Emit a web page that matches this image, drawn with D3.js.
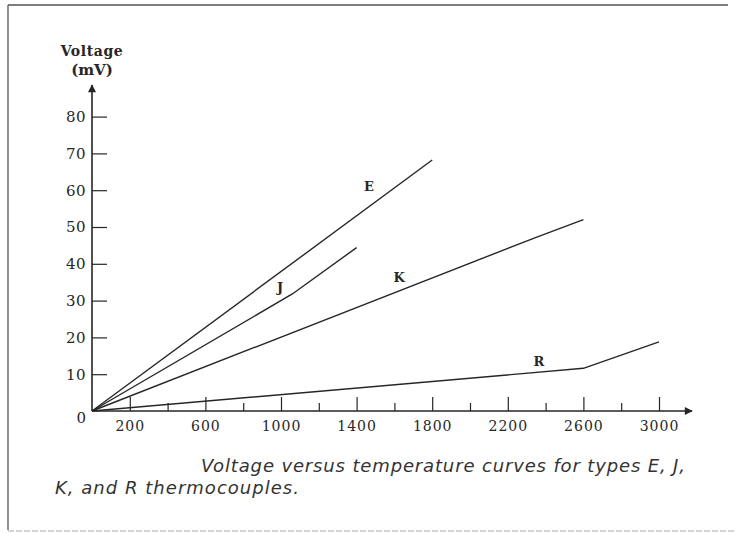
<!DOCTYPE html>
<html>
<head>
<meta charset="utf-8">
<script src="https://cdn.jsdelivr.net/npm/d3@7"></script>
<style>
  body { margin: 0; background: #fff; }
  svg { display: block; }
</style>
</head>
<body>
<svg id="chart" width="735" height="533"></svg>
<script>
    // Data (temperature, mV)
    const typeE = [[0, 0], [1800, 68.2]];
    const typeJ = [[0, 0], [1060, 31.8], [1400, 44.4]];
    const typeK = [[0, 0], [2350, 47.2], [2600, 52]];
    const typeR = [[0, 0], [2600, 11.6], [3000, 18.8]];

    const curveNames = ["E", "J", "K", "R"];
    // where each curve's letter sits (temperature, mV)
    const labelPos = [[1465, 60.9], [995, 33.7], [1625, 36.2], [2365, 13.6]];

    const xMajor = [200, 600, 1000, 1400, 1800, 2200, 2600, 3000];
    const xMinor = [400, 800, 1200, 1600, 2000, 2400, 2800];
    const yTicks = [10, 20, 30, 40, 50, 60, 70, 80];

    const svg = d3.select("#chart");
    const ink = "#262626";

    // frame of the scanned page
    svg.append("line").attr("x1", 8).attr("y1", 5).attr("x2", 728).attr("y2", 5)
        .attr("stroke", "#555").attr("stroke-width", 1.5);
    svg.append("line").attr("x1", 8).attr("y1", 5).attr("x2", 8).attr("y2", 530)
        .attr("stroke", "#555").attr("stroke-width", 1.3);
    svg.append("line").attr("x1", 8).attr("y1", 531).attr("x2", 735).attr("y2", 531)
        .attr("stroke", "#aaa").attr("stroke-width", 1).attr("stroke-dasharray", "6,2");

    const x = d3.scaleLinear().domain([0, 3000]).range([92, 659]);
    const y = d3.scaleLinear().domain([0, 80]).range([411, 116.6]);

    // arrow head
    svg.append("defs").append("marker")
        .attr("id", "arrow").attr("viewBox", "0 0 10 10")
        .attr("refX", 9).attr("refY", 5)
        .attr("markerWidth", 12).attr("markerHeight", 8)
        .attr("markerUnits", "userSpaceOnUse")
        .attr("orient", "auto")
        .append("path").attr("d", "M0,0L10,5L0,10Z").attr("fill", ink);

    // axis lines with arrows
    svg.append("line")
        .attr("x1", x(0)).attr("y1", y(0)).attr("x2", 692).attr("y2", y(0))
        .attr("stroke", ink).attr("stroke-width", 1.6).attr("marker-end", "url(#arrow)");
    svg.append("line")
        .attr("x1", x(0)).attr("y1", y(0)).attr("x2", x(0)).attr("y2", 85)
        .attr("stroke", ink).attr("stroke-width", 1.6).attr("marker-end", "url(#arrow)");

    // y axis ticks
    const yAxis = svg.append("g")
        .attr("transform", `translate(${x(0)},0)`)
        .call(d3.axisLeft(y).tickValues(yTicks).tickSize(-15).tickPadding(6));
    yAxis.select(".domain").remove();
    yAxis.selectAll("line").attr("stroke", ink).attr("stroke-width", 1.2);
    yAxis.selectAll("text")
        .attr("font-family", "DejaVu Serif").attr("font-size", 15)
        .attr("fill", ink).attr("letter-spacing", 0.5);

    // x axis minor ticks
    const xMin = svg.append("g")
        .attr("transform", `translate(0,${y(0)})`)
        .call(d3.axisBottom(x).tickValues(xMinor).tickSize(-8).tickFormat(""));
    xMin.select(".domain").remove();
    xMin.selectAll("line").attr("stroke", ink).attr("stroke-width", 1.2);

    // x axis major ticks + labels
    const xMaj = svg.append("g")
        .attr("transform", `translate(0,${y(0)})`)
        .call(d3.axisBottom(x).tickValues(xMajor).tickSize(-14).tickPadding(10)
            .tickFormat(d3.format("d")));
    xMaj.select(".domain").remove();
    xMaj.selectAll("line").attr("stroke", ink).attr("stroke-width", 1.2);
    xMaj.selectAll("text")
        .attr("font-family", "DejaVu Serif").attr("font-size", 14)
        .attr("fill", ink).attr("letter-spacing", 1);

    // zero label at the corner
    svg.append("text")
        .attr("x", x(0) - 6).attr("y", y(0) + 12)
        .attr("text-anchor", "end")
        .attr("font-family", "DejaVu Serif").attr("font-size", 15).attr("fill", ink)
        .text("0");

    // y axis title
    svg.append("text")
        .attr("x", x(0)).attr("y", 56)
        .attr("text-anchor", "middle")
        .attr("font-family", "DejaVu Serif").attr("font-weight", "bold")
        .attr("font-size", 14).attr("letter-spacing", 0.6).attr("fill", ink)
        .text("Voltage");
    svg.append("text")
        .attr("x", x(0)).attr("y", 75)
        .attr("text-anchor", "middle")
        .attr("font-family", "DejaVu Serif").attr("font-weight", "bold")
        .attr("font-size", 15).attr("fill", ink)
        .text("(mV)");

    // curves
    const line = d3.line().x(d => x(d[0])).y(d => y(d[1]));
    const curves = [typeE, typeJ, typeK, typeR];
    svg.selectAll("path.curve")
        .data(curves)
        .enter()
        .append("path")
        .attr("class", "curve")
        .attr("d", line)
        .attr("fill", "none")
        .attr("stroke", ink)
        .attr("stroke-width", 1.4);

    svg.selectAll("text.curve-label")
        .data(curveNames)
        .enter()
        .append("text")
        .attr("class", "curve-label")
        .attr("x", (d, i) => x(labelPos[i][0]))
        .attr("y", (d, i) => y(labelPos[i][1]))
        .attr("text-anchor", "middle")
        .attr("dy", "0.35em")
        .attr("font-family", "DejaVu Serif").attr("font-weight", "bold")
        .attr("font-size", 13).attr("fill", ink)
        .text(d => d);

    // caption
    const caption = svg.append("text")
        .attr("font-family", "DejaVu Sans").attr("font-style", "italic")
        .attr("font-size", 18).attr("fill", "#333");
    caption.append("tspan").attr("x", 201).attr("y", 472)
        .attr("textLength", 484).attr("lengthAdjust", "spacing")
        .text("Voltage versus temperature curves for types E, J,");
    caption.append("tspan").attr("x", 55).attr("y", 494)
        .attr("textLength", 244).attr("lengthAdjust", "spacing")
        .text("K, and R thermocouples.");
</script>
</body>
</html>
